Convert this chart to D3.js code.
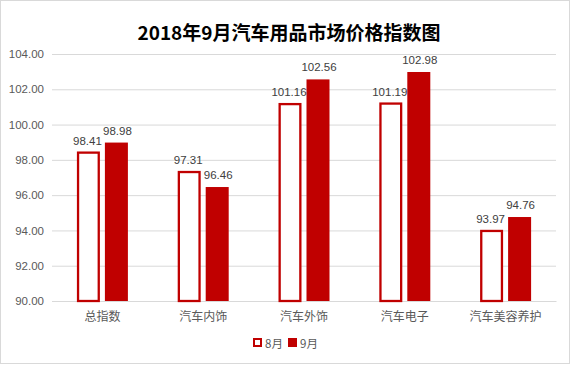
<!DOCTYPE html>
<html><head><meta charset="utf-8">
<script src="https://cdn.jsdelivr.net/npm/d3@7"></script>
<style>body{margin:0;background:#fff}svg{display:block}</style>
</head><body><svg id="c" width="571" height="365"></svg>
<script>
const categories = ["总指数","汽车内饰","汽车外饰","汽车电子","汽车美容养护"];
const aug = [98.41, 97.31, 101.16, 101.19, 93.97];
const sep = [98.98, 96.46, 102.56, 102.98, 94.76];
const yTicks = [90,92,94,96,98,100,102,104];
const seriesNames = ["8月","9月"];
const title = "2018年9月汽车用品市场价格指数图";

(function(){
const svg = d3.select("#c");
const red = "#C00000";
svg.append("rect").attr("x",0.5).attr("y",0.5).attr("width",569).attr("height",363)
  .attr("fill","#fff").attr("stroke","#d9d9d9");

const pl=52, pr=556, pt=54, pb=301;
const x = d3.scaleBand().domain(categories).range([pl,pr]);
const y = d3.scaleLinear().domain([90,104]).range([pb,pt]);

svg.append("text").attr("x",289).attr("y",40).attr("text-anchor","middle")
  .attr("font-family","'Noto Sans CJK SC'").attr("font-weight","bold").attr("font-size",19)
  .attr("fill","#000").text(title);

const yAxis = d3.axisLeft(y).tickValues(yTicks).tickSize(-(pr-pl)).tickFormat(d3.format(".2f"));
const gy = svg.append("g").attr("transform",`translate(${pl},0)`).call(yAxis);
gy.select(".domain").remove();
gy.selectAll(".tick line").attr("stroke","#d9d9d9");
gy.selectAll(".tick text").attr("x",-8).attr("fill","#595959")
  .attr("font-family","'Liberation Sans', Arial").attr("font-size",11.5);

const xAxis = d3.axisBottom(x).tickSize(0);
const gx = svg.append("g").attr("transform",`translate(0,${pb})`).call(xAxis);
gx.select(".domain").attr("stroke","#d9d9d9");
gx.selectAll(".tick text").attr("dy","1.4em").attr("fill","#595959")
  .attr("font-family","'Noto Sans CJK SC'").attr("font-size",12);

const bw = 23, gap = 5;
const g = svg.append("g");
categories.forEach((c,i)=>{
  const cx = x(c) + x.bandwidth()/2;
  const x1 = cx - gap/2 - bw, x2 = cx + gap/2;
  g.append("rect").attr("x",x1+1.15).attr("y",y(aug[i])).attr("width",bw-2.3)
    .attr("height",pb-y(aug[i])).attr("fill","#fff").attr("stroke",red).attr("stroke-width",2.3);
  g.append("rect").attr("x",x2).attr("y",y(sep[i])).attr("width",bw)
    .attr("height",pb-y(sep[i])).attr("fill",red);
  g.append("text").attr("x",x1+bw/2-1).attr("y",y(aug[i])-8).attr("text-anchor","middle")
    .attr("font-family","'Liberation Sans', Arial").attr("font-size",11.5).attr("fill","#404040")
    .text(aug[i].toFixed(2));
  g.append("text").attr("x",x2+bw/2+1).attr("y",y(sep[i])-8).attr("text-anchor","middle")
    .attr("font-family","'Liberation Sans', Arial").attr("font-size",11.5).attr("fill","#404040")
    .text(sep[i].toFixed(2));
});

const lg = svg.append("g");
lg.append("rect").attr("x",254).attr("y",339).attr("width",7).attr("height",7)
  .attr("fill","#fff").attr("stroke",red).attr("stroke-width",2);
lg.append("text").attr("x",265).attr("y",347.5).attr("font-family","'Noto Sans CJK SC'")
  .attr("font-size",11.5).attr("fill","#595959").text(seriesNames[0]);
lg.append("rect").attr("x",288).attr("y",338).attr("width",9).attr("height",9).attr("fill",red);
lg.append("text").attr("x",300).attr("y",347.5).attr("font-family","'Noto Sans CJK SC'")
  .attr("font-size",11.5).attr("fill","#595959").text(seriesNames[1]);
})();
</script></body></html>
